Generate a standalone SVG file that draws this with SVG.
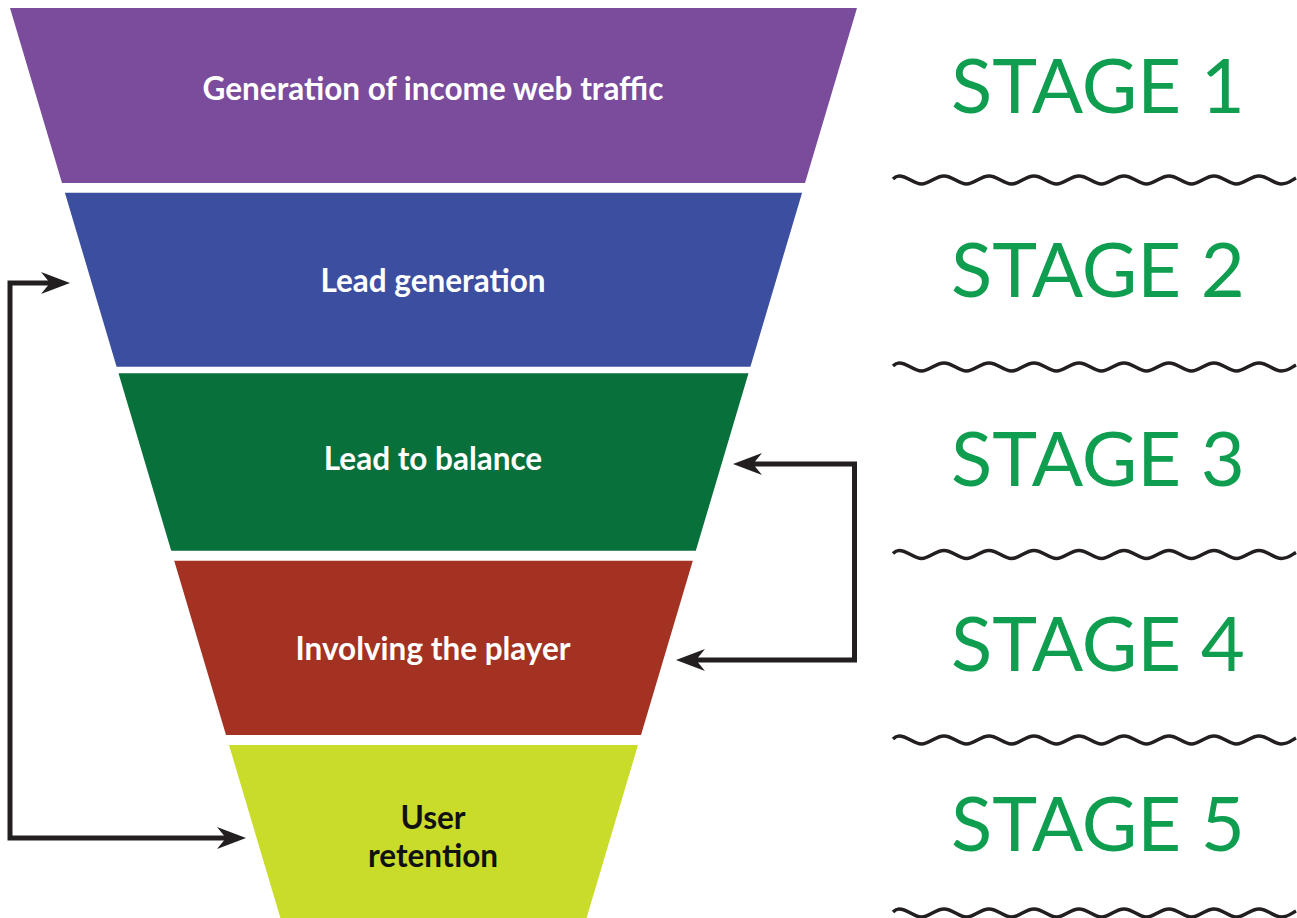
<svg xmlns="http://www.w3.org/2000/svg" width="1297" height="918" viewBox="0 0 1297 918">
<style>
.lbl{font-family:Lato,"Open Sans","Liberation Sans",sans-serif;font-weight:bold;font-size:31.5px;text-anchor:middle;fill:#ffffff}
.dark{fill:#111111}
.stage{font-family:Lato,"Open Sans","Liberation Sans",sans-serif;font-size:76px;fill:#0f9d4f}
.wave{fill:none;stroke:#231f20;stroke-width:3.5}
.conn{fill:none;stroke:#231f20;stroke-width:5;marker-start:url(#ah);marker-end:url(#ah)}
</style>
<defs>
<marker id="ah" markerUnits="userSpaceOnUse" refX="3" refY="0" markerWidth="40" markerHeight="30" orient="auto-start-reverse" overflow="visible">
<path d="M20,0 L-9,-11 L0,0 L-9,11 Z" fill="#231f20"/>
</marker>
<path id="wv" d="M893,-1 C895,-3 896.5,-4 899,-4 C908,-4 913,4 921.5,4 C930,4 935,-4 944,-4 C953,-4 958,4 966.5,4 C975,4 980,-4 989,-4 C998,-4 1003,4 1011.5,4 C1020,4 1025,-4 1034,-4 C1043,-4 1048,4 1056.5,4 C1065,4 1070,-4 1079,-4 C1088,-4 1093,4 1101.5,4 C1110,4 1115,-4 1124,-4 C1133,-4 1138,4 1146.5,4 C1155,4 1160,-4 1169,-4 C1178,-4 1183,4 1191.5,4 C1200,4 1205,-4 1214,-4 C1223,-4 1228,4 1236.5,4 C1245,4 1250,-4 1259,-4 C1268,-4 1273,4 1281.5,4 C1288,4 1292,0 1296,-2"/>
</defs>
<g id="stage1">
<polygon points="10,8 857,8 805,183 62,183" fill="#7b4b9c"/>
<text class="lbl" x="433" y="100">Generation of income web traffic</text>
</g>
<g id="stage2">
<polygon points="64.9,192.7 802.1,192.7 750.4,366.7 116.6,366.7" fill="#3b4ea0"/>
<text class="lbl" x="433" y="292">Lead generation</text>
</g>
<g id="stage3">
<polygon points="118.5,373.3 748.5,373.3 695.8,550.7 171.2,550.7" fill="#08703a"/>
<text class="lbl" x="433" y="470">Lead to balance</text>
</g>
<g id="stage4">
<polygon points="174.2,560.7 692.8,560.7 641,735 226,735" fill="#a33222"/>
<text class="lbl" x="433" y="660">Involving the player</text>
</g>
<g id="stage5">
<polygon points="229,745 638,745 586.6,918 280.4,918" fill="#c9dc2a"/>
<text class="lbl dark" x="433" y="829">User</text>
<text class="lbl dark" x="433" y="867">retention</text>
</g>
<g id="labels">
<text class="stage" x="951" y="113">STAGE 1</text>
<text class="stage" x="951" y="297">STAGE 2</text>
<text class="stage" x="951" y="486">STAGE 3</text>
<text class="stage" x="951" y="671">STAGE 4</text>
<text class="stage" x="951" y="851">STAGE 5</text>
</g>
<g id="separators">
<use href="#wv" class="wave" transform="translate(0,180)"/>
<use href="#wv" class="wave" transform="translate(0,367)"/>
<use href="#wv" class="wave" transform="translate(0,554.5)"/>
<use href="#wv" class="wave" transform="translate(0,740)"/>
<use href="#wv" class="wave" transform="translate(0,913)"/>
</g>
<g id="connectors">
<path class="conn" d="M53,283 H10 V838 H229"/>
<path class="conn" d="M750,464 H854.5 V660 H693"/>
</g>
</svg>
